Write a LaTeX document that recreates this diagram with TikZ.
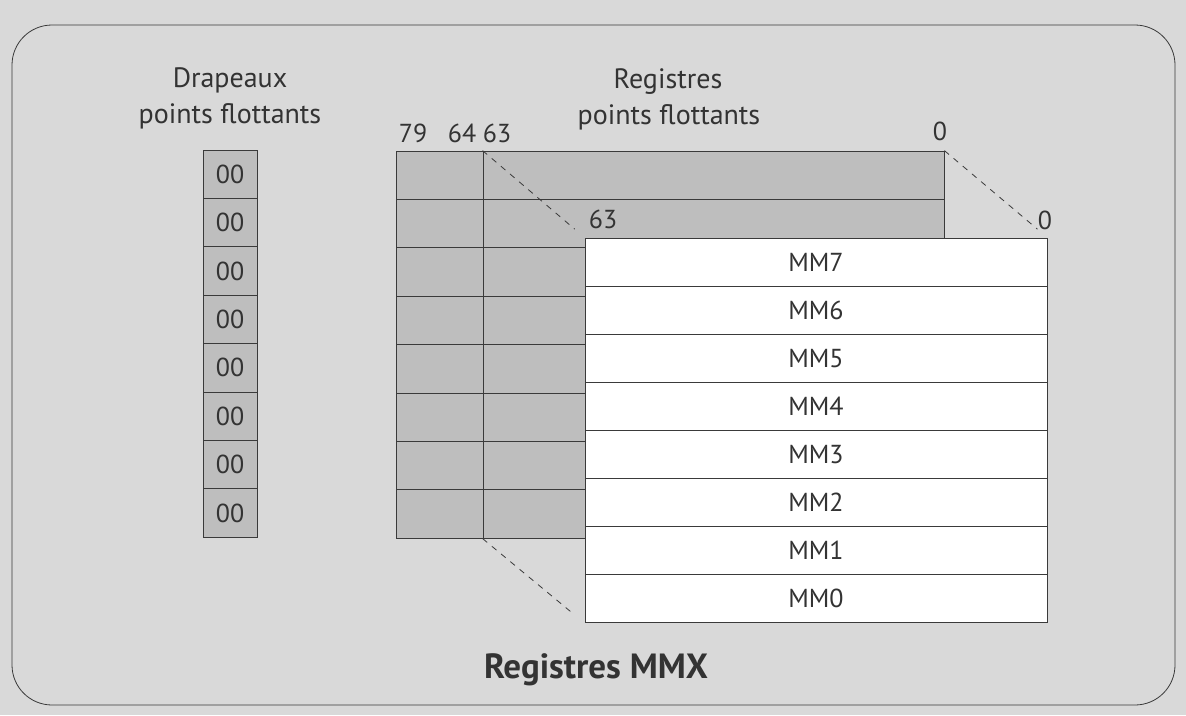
\documentclass[tikz,border=0pt]{standalone}
\usepackage{fontspec}
\setmainfont{PT Sans}
\definecolor{bggray}{HTML}{D9D9D9}
\definecolor{fpgray}{HTML}{BEBEBE}
\definecolor{linegray}{HTML}{3A3A3A}
\newcommand\lblfont{\fontsize{26}{30}\selectfont}
\newcommand\ttlfont{\fontsize{28}{34}\selectfont}
\newcommand\bigfont{\fontsize{35}{40}\selectfont\bfseries}
\begin{document}
\begin{tikzpicture}[x=1pt,y=-1pt,
  frame/.style={draw=linegray, line width=0.8pt},
  flagcell/.style={frame, fill=fpgray, minimum width=54pt, minimum height=48.4pt, inner sep=0pt, font=\lblfont, text=black!80},
  fpleft/.style={frame, fill=fpgray, minimum width=87pt, minimum height=48.4pt, inner sep=0pt},
  fpright/.style={frame, fill=fpgray, minimum width=461pt, minimum height=48.4pt, inner sep=0pt},
  mmxcell/.style={frame, fill=white, minimum width=462pt, minimum height=48.1pt, inner sep=0pt, font=\lblfont, text=black!80},
  lbl/.style={font=\lblfont, text=black!80, inner sep=0pt, anchor=base},
  title/.style={font=\ttlfont, text=black!80, inner sep=0pt, anchor=base},
  dashline/.style={draw=linegray, line width=0.8pt, dash pattern=on 6pt off 6pt, shorten >=13pt}
]
\useasboundingbox (0,0) rectangle (1186,715);
\fill[bggray] (0,0) rectangle (1186,715);
\node[frame, fill=bggray, rounded corners=40pt, minimum width=1163pt, minimum height=680pt, inner sep=0pt] (outer) at (593.5,365) {};

\node[title] (tflags1) at (230,87) {Drapeaux};
\node[title] (tflags2) at (230,123) {points flottants};
\node[title] (tfp1) at (668,88) {Registres};
\node[title] (tfp2) at (669,124) {points flottants};

\foreach \i in {0,...,7} {
  \node[flagcell] (f\i) at (230,{150+48.4*(\i+0.5)}) {00};
  \node[fpleft] (fpL\i) at (439.5,{151+48.4*(\i+0.5)}) {};
  \node[fpright] (fpR\i) at (713.5,{151+48.4*(\i+0.5)}) {};
}

\node[lbl] (l79) at (413,142) {79};
\node[lbl] (l64) at (462,142) {64};
\node[lbl] (l63) at (497,142) {63};
\node[lbl] (l0) at (940,140) {0};

\foreach \n [count=\k from 0] in {7,6,5,4,3,2,1,0} {
  \node[mmxcell] (m\n) at (816,{238+48.1*(\k+0.5)}) {MM\n};
}

\node[lbl] (l63b) at (603,228) {63};
\node[lbl] (l0b) at (1045,229) {0};

\draw[dashline] (fpR0.north west) -- (m7.north west);
\draw[dashline] (fpR0.north east) -- (m7.north east);
\draw[dashline] (fpR7.south west) -- (m0.south west);

\node[font=\bigfont, text=black!80, inner sep=0pt, anchor=base] (tmmx) at (596,678) {Registres MMX};
\end{tikzpicture}
\end{document}
